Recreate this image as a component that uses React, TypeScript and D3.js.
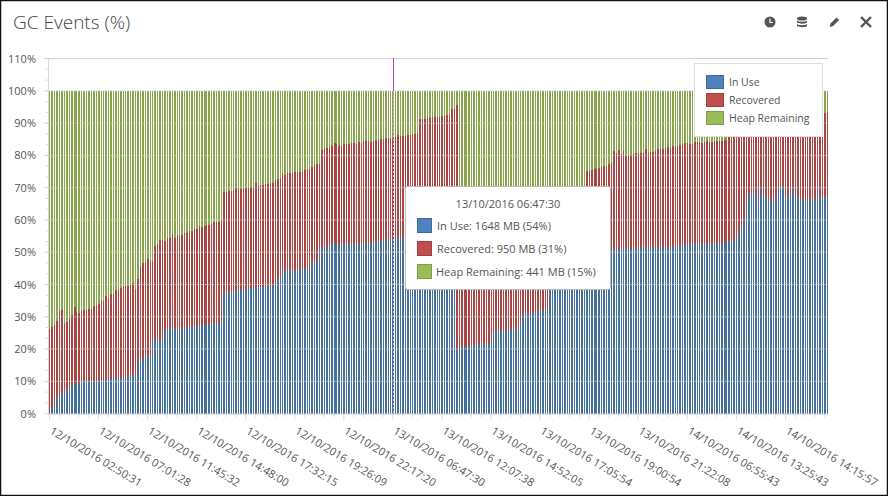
import React from 'react';
import * as d3 from 'd3';

// In Use % per sample
const inUse = [
  0.5,1.8,2.6,5.4,4.7,6.3,6.3,7.2,8.4,8.4,
  9.6,9.3,9.5,9.7,9.7,10,10,10,10.2,10.2,
  10.3,10.5,10.7,10.7,11,10.7,10.9,10.9,10.9,11,
  11.3,11.3,11.6,11.6,11.9,11.9,16.2,16.4,16.9,18.3,
  17.8,17.8,22.1,23.3,22.5,22.7,22.7,25.6,26,26.9,
  26,26.4,26.3,26,26.3,26.5,26.5,26.8,26.8,27,
  27,27.2,27.4,27.4,27.5,27.6,27.8,28,28.2,28.2,
  28.4,37.4,37.4,37.5,37.5,37.6,37.9,38.2,38.2,38.4,
  38.6,38.8,39,39.2,39.2,39.3,39.3,39.3,39.4,39.4,
  39.5,39.6,39.8,41.8,42.1,44.2,44.2,44.4,44.4,44.3,
  44.3,44.4,44.8,44.8,44.9,44.9,45,46.9,46.9,46.9,
  51.2,51.4,51.5,51.6,51.9,52.5,52.9,51.8,51.9,52.2,
  52.4,52.5,52.5,52.5,52.5,52.5,52.5,52.5,53,52.9,
  52.9,52.9,53.3,53.6,53.6,53.6,53.7,53.8,54.1,54.1,
  54.1,54.4,54.6,54.4,54.3,54.6,54.8,55,55.2,55.3,
  55.5,56.2,56.4,56.5,56.6,56.9,57,57.4,57.6,58,
  58.3,58.7,58.9,59.2,59.4,59.5,20,20.2,20.7,20.6,
  20.9,21,21.2,21.2,21.4,21.5,21.6,21.6,21.7,21.8,
  22,25.1,25.5,25.9,25.6,25.7,25.7,26.1,26.2,26.3,
  26.3,26.4,28.2,31.2,31.1,31.1,31,31.1,31.5,31.7,
  31.9,32.1,32.1,32.1,38.6,38.9,39.3,39.8,40.2,40.7,
  41.1,41.8,42.2,42.9,43.3,43.8,44.6,45.2,45.7,46.3,
  46.9,47.4,47.9,48.3,48.6,49,49.5,49.8,50.2,50.6,
  51,51,50.7,51.8,51.2,51.4,51.2,51,51.2,51.2,
  51,51.2,51.9,51.2,51.4,51.6,51.4,51.6,51.4,51.7,
  51.8,51.6,51.2,51.5,51.6,51.8,51.8,51.8,51.8,52.4,
  52.2,52.3,52.4,52.5,52.4,52.5,52.6,52.5,52.6,52.6,
  52.6,52.8,52.8,52.9,52.9,53,53.4,53.5,53.6,53.7,
  53.8,55.9,57.9,59.8,65.7,68.3,67.9,69,67.9,66.5,
  69.8,67.2,67.1,66.2,66,66,67.5,69.8,69.8,70.5,
  66.7,67.9,67.2,70.3,68.1,67.2,66.5,66.3,66.3,66.5,
  66.1,66.4,66.5,70.3,67.2,67.1,67.1,67.1,
];

// top of the Recovered segment, % per sample
const usedTop = [
  26.1,26.9,27.6,28.6,31.9,32.1,28.2,28.3,29.8,30.5,
  33,31.5,31.3,31.7,32.1,32.1,32.4,32.4,33.3,33.6,
  33.9,35.2,34.9,36.4,35.7,37.2,36.9,38.3,38.3,38.8,
  39.1,39.6,39.5,39.9,40.4,38.6,41.7,45.5,46.6,46.7,
  47.9,47.4,47.4,51.9,52.5,53.8,53.7,53.5,54.3,54.4,
  55.6,54.5,55.3,55.1,55.3,55.9,55.9,56.6,56.6,57.2,
  57.2,58.1,57.7,58,58.4,58.4,58.7,59.4,59.4,59.4,
  60,68.7,68.7,69,69,69.2,69.8,69.8,69.6,69.8,
  69.8,70,70.1,70.1,71.3,70.5,70.7,70.8,71,71.1,
  71.3,71.4,72.4,72.8,73,74.5,73.9,74.4,74.7,74.7,
  74.9,75,75,75.3,75.5,75.7,75.8,76.5,77,77.2,
  77.2,81.7,82,82.4,82.6,82.9,84,83.6,83,83,
  83.4,83.5,83.6,83.7,83.9,83.6,84.2,83.9,84.5,84.5,
  84.5,84.2,84.5,84.8,85.1,85.1,85.1,85.3,85.3,85.4,
  85.3,85.8,86.3,86.1,86,86,86.2,86.3,86.5,86.6,
  86.8,91.3,91.3,91.3,91.5,91.5,91.8,91.8,91.9,91.9,
  92.1,92.3,92.6,92.6,94.5,94.4,95.6,42,43.5,43,
  44,44.6,45.3,45,46,46.8,47,47.2,48,48.6,
  49,52,52.7,53.5,53,53.9,54.6,55,55.8,56,
  56.2,56.9,59,62,62.3,62.1,62.8,63.2,63.9,64.4,
  64.6,65,65.3,65.1,66,66.2,66.8,67,67.3,67.9,
  68,68.2,68.8,69,69.1,69.4,69.6,69.8,70,75.2,
  75.2,75.5,75.7,76,76.2,76.3,76.7,76.8,77.2,77.5,
  81.4,80.6,81.6,80.4,81.4,79.7,79.8,80.1,80.4,80.7,
  80.7,80.9,80.9,82,80.7,81.2,81.2,81.5,82,82,
  82,82.4,82.6,82.4,82.8,82.9,83,83.2,83.5,83.8,
  83.9,83.6,83.5,84.1,84.1,84.1,83.9,84.3,84.4,84.1,
  84.1,84.6,84.6,84.6,84.6,84.7,84.8,85.9,86,86.1,
  86.3,86.2,86.5,86.7,86.9,86.8,87,87.2,87.4,87.3,
  87.6,87.8,88,87.9,88.2,88.4,88.6,88.5,88.8,89,
  89.2,89.1,89.4,89.7,89.9,90,90.3,90.2,90.5,90.8,
  91,91.3,91.5,91.8,92,92.3,93.2,93.3,
];

// samples where the reference shows no white gap to the next bar
const mergedBars = [10, 63, 116, 169, 222, 275];

const xLabels = [
  '12/10/2016 02:50:31', '12/10/2016 07:01:28', '12/10/2016 11:45:32', '12/10/2016 14:48:00',
  '12/10/2016 17:32:15', '12/10/2016 19:26:09', '12/10/2016 22:17:20', '13/10/2016 06:47:30',
  '13/10/2016 12:07:38', '13/10/2016 14:52:05', '13/10/2016 17:05:54', '13/10/2016 19:00:54',
  '13/10/2016 21:22:08', '14/10/2016 06:55:43', '14/10/2016 13:25:43', '14/10/2016 14:15:57',
];
const yTicks = [0, 10, 20, 30, 40, 50, 60, 70, 80, 90, 100, 110];

const seriesNames = ['In Use', 'Recovered', 'Heap Remaining'];
const barColors = ['#44709f', '#a84442', '#88a44d'];
const swatchFill = ['#4f81bd', '#c0504d', '#9bbb59'];
const swatchStroke = ['#3f6a9e', '#a0403e', '#7f9c49'];
const tooltipTime = '13/10/2016 06:47:30';
const tooltipLines = ['In Use: 1648 MB (54%)', 'Recovered: 950 MB (31%)', 'Heap Remaining: 441 MB (15%)'];

const FONT = '"Open Sans", sans-serif';
const TEXT = '#555';
const AXIS = '#dcdcdc';

const App: React.FC = () => {
  const x = d3.scaleLinear().domain([0, inUse.length]).range([49, 49 + 2.453 * inUse.length]);
  const y = d3.scaleLinear().domain([0, 110]).range([413.6, 58.6]);

  const rows = inUse.map((v, i) => ({
    i,
    use: v,
    rec: usedTop[i] - v,
    heap: 100 - usedTop[i],
  }));
  const stacked = d3.stack<any>().keys(['use', 'rec', 'heap'])(rows);

  const minorX = d3.range(0, inUse.length, 4);
  const minorY = d3.range(0, 110, 10 / 3);

  // snap to whole pixels, keeping a 1px white gap
  const barLeft = (i: number) => Math.round(x(i));
  const barWidth = (i: number) => barLeft(i + 1) - barLeft(i) - (mergedBars.includes(i) ? 0 : 1);

  return (
    <svg width={888} height={496} style={{ position: 'fixed', left: 0, top: 0 }} fontFamily={FONT}>
      <rect x={0.5} y={0.5} width={887} height={495} fill="#fff" stroke="#111" strokeWidth={1.5} />

      <text x={13} y={29} fontSize={19} fontWeight={300} fill="#444">GC Events (%)</text>

      {/* toolbar icons */}
      <g fill="#555">
        <circle cx={770} cy={22} r={5.5} />
        <path d="M770 18.5V22.5H773" stroke="#fff" strokeWidth={1.2} fill="none" />
        <ellipse cx={802} cy={18.5} rx={5} ry={2} />
        <path d="M797 20.5c1 1.6 9 1.6 10 0v2c-1 1.6-9 1.6-10 0z" />
        <path d="M797 24c1 1.6 9 1.6 10 0v2c-1 1.6-9 1.6-10 0z" />
        <path d="M829.5 27l1-3.6 6-6 2.6 2.6-6 6z" />
        <path d="M861 17l10 10M871 17l-10 10" stroke="#555" strokeWidth={2.4} />
      </g>

      {/* axes */}
      <line x1={48.5} x2={48.5} y1={y(110)} y2={y(0) + 1} stroke={AXIS} strokeWidth={1} />
      <line x1={48.5} x2={828} y1={y(0) + 0.6} y2={y(0) + 0.6} stroke={AXIS} strokeWidth={1} />
      {minorY.map((v, i) => (
        <line key={i} x1={45.5} x2={48.5} y1={y(v)} y2={y(v)} stroke={AXIS} />
      ))}
      {minorX.map(i => (
        <line key={i} x1={x(i) + 0.5} x2={x(i) + 0.5} y1={414} y2={i % 20 === 0 ? 420 : 417} stroke={AXIS} />
      ))}

      {/* bars */}
      {stacked.map((s, k) => (
        <g key={k} fill={barColors[k]} shapeRendering="crispEdges">
          {s.map((d, i) => (
            <rect key={i} x={barLeft(i)} width={barWidth(i)} y={y(d[1])} height={y(d[0]) - y(d[1])} />
          ))}
        </g>
      ))}

      {/* grid is drawn over the bars */}
      {yTicks.map(t => (
        <g key={t}>
          <line x1={44} x2={828} y1={y(t)} y2={y(t)} stroke="#cfcfcf" strokeOpacity={t === 110 ? 1 : 0.55} />
          <text x={36} y={y(t) + 4} textAnchor="end" fontSize={11} fill={TEXT}>{t}%</text>
        </g>
      ))}

      {/* crosshair */}
      <line x1={393.5} x2={393.5} y1={58} y2={91} stroke="#c23fc2" />
      <line x1={393.5} x2={393.5} y1={91} y2={414} stroke="#e6a6e6" strokeDasharray="2,2" />

      {xLabels.map((label, i) => (
        <text key={label} transform={`translate(${x(i * 20)},433) rotate(31)`} fontSize={11} fill={TEXT}>
          {label}
        </text>
      ))}

      {/* legend */}
      <rect x={694.5} y={63.5} width={128} height={73} fill="#fff" stroke="#ddd" />
      {seriesNames.map((name, i) => (
        <g key={name}>
          <rect x={706.5} y={75.5 + i * 18} width={17} height={13} fill={swatchFill[i]} stroke={swatchStroke[i]} />
          <text x={729} y={86 + i * 18} fontSize={10.5} fill={TEXT}>{name}</text>
        </g>
      ))}

      {/* tooltip */}
      <rect x={405.5} y={186.5} width={205} height={103} rx={2} fill="#fff" stroke="#bbb" />
      <text x={508} y={208} textAnchor="middle" fontSize={11} fill={TEXT}>{tooltipTime}</text>
      {tooltipLines.map((line, i) => (
        <g key={line}>
          <rect x={417.5} y={218.5 + i * 23} width={14} height={14} fill={swatchFill[i]} stroke={swatchStroke[i]} />
          <text x={i === 2 ? 436 : 437} y={230 + i * 23} fontSize={11} fill={TEXT}>{line}</text>
        </g>
      ))}
    </svg>
  );
};

export default App;
